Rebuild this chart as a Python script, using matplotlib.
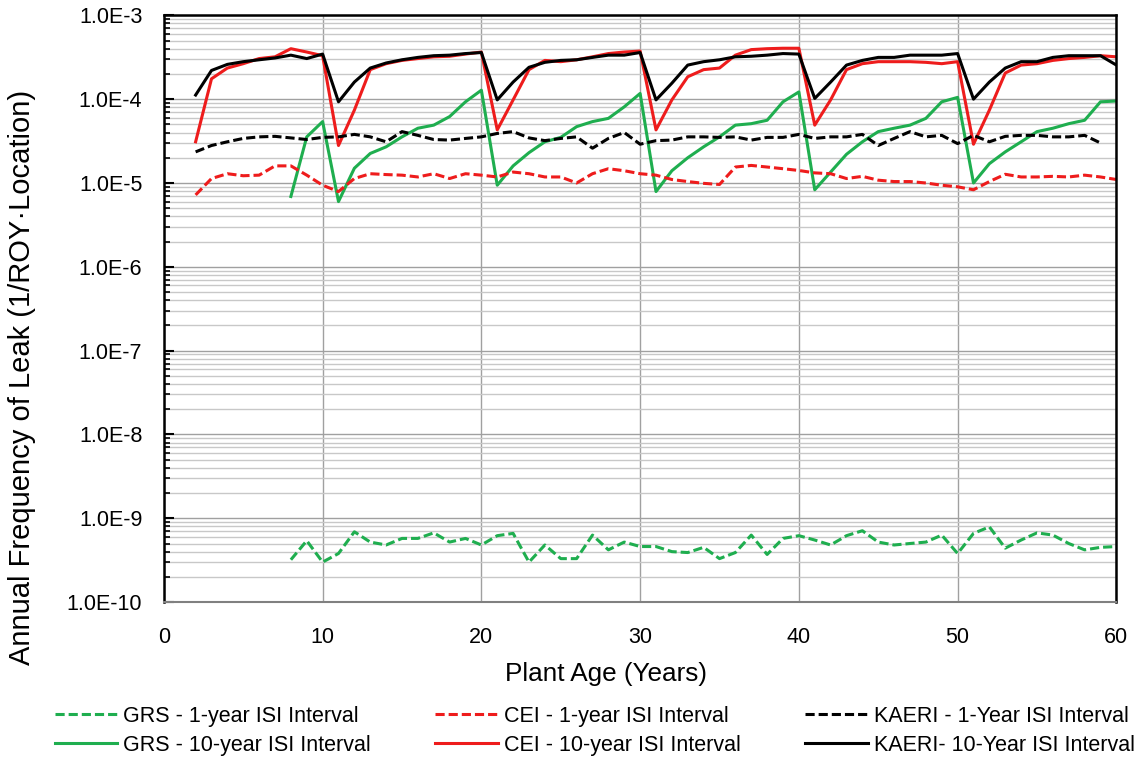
import numpy as np
import matplotlib
matplotlib.use('Agg')
import matplotlib.pyplot as plt
from matplotlib.ticker import LogLocator, NullFormatter

# %% data
years_kaeri10 = np.arange(2, 61)
kaeri10 = [1.12e-4, 2.2e-4, 2.6e-4, 2.8e-4, 2.95e-4, 3.1e-4, 3.35e-4, 3.05e-4, 3.45e-4,
           9.3e-5, 1.6e-4, 2.35e-4, 2.7e-4, 2.95e-4, 3.15e-4, 3.3e-4, 3.35e-4, 3.5e-4, 3.6e-4,
           9.8e-5, 1.6e-4, 2.4e-4, 2.75e-4, 2.9e-4, 2.95e-4, 3.15e-4, 3.35e-4, 3.35e-4, 3.6e-4,
           9.8e-5, 1.55e-4, 2.55e-4, 2.8e-4, 2.95e-4, 3.2e-4, 3.25e-4, 3.35e-4, 3.5e-4, 3.45e-4,
           1.02e-4, 1.6e-4, 2.55e-4, 2.9e-4, 3.15e-4, 3.15e-4, 3.35e-4, 3.35e-4, 3.35e-4, 3.5e-4,
           1.0e-4, 1.6e-4, 2.35e-4, 2.8e-4, 2.8e-4, 3.15e-4, 3.3e-4, 3.3e-4, 3.3e-4, 2.55e-4]

years_cei10 = np.arange(2, 61)
cei10 = [3.1e-5, 1.75e-4, 2.35e-4, 2.65e-4, 3.05e-4, 3.2e-4, 4.0e-4, 3.65e-4, 3.3e-4,
         2.8e-5, 7.4e-5, 2.25e-4, 2.65e-4, 2.9e-4, 3.05e-4, 3.2e-4, 3.25e-4, 3.45e-4, 3.65e-4,
         4.3e-5, 9.8e-5, 2.25e-4, 2.9e-4, 2.8e-4, 2.95e-4, 3.2e-4, 3.5e-4, 3.65e-4, 3.75e-4,
         4.3e-5, 9.8e-5, 1.85e-4, 2.25e-4, 2.35e-4, 3.35e-4, 3.9e-4, 4.0e-4, 4.05e-4, 4.05e-4,
         4.9e-5, 9.8e-5, 2.25e-4, 2.65e-4, 2.8e-4, 2.8e-4, 2.8e-4, 2.75e-4, 2.65e-4, 2.8e-4,
         2.9e-5, 7.4e-5, 2.05e-4, 2.55e-4, 2.65e-4, 2.9e-4, 3.05e-4, 3.15e-4, 3.3e-4, 3.2e-4]

years_grs10 = np.arange(8, 61)
grs10 = [6.9e-6, 3.55e-5, 5.4e-5,
         6.0e-6, 1.5e-5, 2.25e-5, 2.7e-5, 3.55e-5, 4.5e-5, 4.9e-5, 6.2e-5, 9.3e-5, 1.28e-4,
         9.4e-6, 1.6e-5, 2.3e-5, 3.1e-5, 3.5e-5, 4.7e-5, 5.4e-5, 5.9e-5, 8.1e-5, 1.17e-4,
         7.9e-6, 1.4e-5, 2.0e-5, 2.7e-5, 3.55e-5, 4.9e-5, 5.1e-5, 5.6e-5, 9.3e-5, 1.22e-4,
         8.3e-6, 1.35e-5, 2.2e-5, 3.1e-5, 4.1e-5, 4.5e-5, 4.9e-5, 5.9e-5, 9.3e-5, 1.05e-4,
         1.0e-5, 1.7e-5, 2.35e-5, 3.1e-5, 4.1e-5, 4.5e-5, 5.1e-5, 5.6e-5, 9.3e-5, 9.5e-5]

years_kaeri1 = np.arange(2, 60)
kaeri1 = [2.35e-5, 2.8e-5, 3.1e-5, 3.4e-5, 3.55e-5, 3.6e-5, 3.45e-5, 3.3e-5, 3.5e-5,
          3.55e-5, 3.8e-5, 3.55e-5, 3.1e-5, 4.1e-5, 3.7e-5, 3.3e-5, 3.25e-5, 3.4e-5, 3.55e-5,
          3.9e-5, 4.1e-5, 3.45e-5, 3.2e-5, 3.4e-5, 3.55e-5, 2.6e-5, 3.4e-5, 4.0e-5, 2.9e-5,
          3.2e-5, 3.25e-5, 3.55e-5, 3.55e-5, 3.5e-5, 3.55e-5, 3.25e-5, 3.5e-5, 3.5e-5, 3.8e-5,
          3.4e-5, 3.55e-5, 3.55e-5, 3.8e-5, 2.8e-5, 3.4e-5, 4.1e-5, 3.55e-5, 3.7e-5, 2.95e-5,
          3.7e-5, 3.1e-5, 3.6e-5, 3.7e-5, 3.7e-5, 3.55e-5, 3.55e-5, 3.7e-5, 3.0e-5]

years_cei1 = np.arange(2, 61)
cei1 = [7.2e-6, 1.13e-5, 1.29e-5, 1.22e-5, 1.24e-5, 1.6e-5, 1.6e-5, 1.24e-5, 9.4e-6,
        7.9e-6, 1.13e-5, 1.29e-5, 1.26e-5, 1.24e-5, 1.18e-5, 1.29e-5, 1.13e-5, 1.29e-5, 1.24e-5,
        1.18e-5, 1.35e-5, 1.29e-5, 1.18e-5, 1.18e-5, 1.0e-5, 1.29e-5, 1.48e-5, 1.4e-5, 1.29e-5,
        1.24e-5, 1.1e-5, 1.04e-5, 9.9e-6, 9.6e-6, 1.55e-5, 1.62e-5, 1.55e-5, 1.48e-5, 1.41e-5,
        1.32e-5, 1.29e-5, 1.13e-5, 1.2e-5, 1.08e-5, 1.04e-5, 1.04e-5, 1.0e-5, 9.4e-6, 9.0e-6,
        8.3e-6, 1.04e-5, 1.27e-5, 1.18e-5, 1.18e-5, 1.2e-5, 1.18e-5, 1.24e-5, 1.18e-5, 1.1e-5]

years_grs1 = np.arange(8, 61)
grs1 = [3.2e-10, 5.4e-10, 3.0e-10,
        3.8e-10, 6.9e-10, 5.2e-10, 4.8e-10, 5.75e-10, 5.75e-10, 6.7e-10, 5.2e-10, 5.75e-10, 4.8e-10,
        6.2e-10, 6.6e-10, 3.0e-10, 4.8e-10, 3.3e-10, 3.3e-10, 6.3e-10, 4.2e-10, 5.2e-10, 4.6e-10,
        4.6e-10, 4.0e-10, 3.9e-10, 4.5e-10, 3.3e-10, 3.9e-10, 6.3e-10, 3.7e-10, 5.75e-10, 6.2e-10,
        5.5e-10, 4.8e-10, 6.2e-10, 7.1e-10, 5.2e-10, 4.8e-10, 5.0e-10, 5.2e-10, 6.3e-10, 3.8e-10,
        6.6e-10, 7.9e-10, 4.4e-10, 5.5e-10, 6.7e-10, 6.3e-10, 5.0e-10, 4.2e-10, 4.5e-10, 4.6e-10]

x_ticks = [0, 10, 20, 30, 40, 50, 60]
y_ticks = [1e-10, 1e-9, 1e-8, 1e-7, 1e-6, 1e-5, 1e-4, 1e-3]
y_tick_labels = ['1.0E-10', '1.0E-9', '1.0E-8', '1.0E-7', '1.0E-6', '1.0E-5', '1.0E-4', '1.0E-3']

# %% plot
green = '#1fae4f'
red = '#ee1c1c'
black = '#000000'
lw = 2.2
dash = (3, 1.3)
font = 'Liberation Sans'

fig = plt.figure(figsize=(11.38, 7.67), dpi=100)
ax = fig.add_axes([0.144, 0.215, 0.837, 0.765])

ax.plot(years_grs1, grs1, color=green, lw=lw, dashes=dash, label='GRS - 1-year ISI Interval')
ax.plot(years_grs10, grs10, color=green, lw=lw, label='GRS - 10-year ISI Interval')
ax.plot(years_cei1, cei1, color=red, lw=lw, dashes=dash, label='CEI - 1-year ISI Interval')
ax.plot(years_cei10, cei10, color=red, lw=lw, label='CEI - 10-year ISI Interval')
ax.plot(years_kaeri1, kaeri1, color=black, lw=lw, dashes=dash, label='KAERI - 1-Year ISI Interval')
ax.plot(years_kaeri10, kaeri10, color=black, lw=lw, label='KAERI- 10-Year ISI Interval')

ax.set_yscale('log')
ax.set_ylim(1e-10, 1e-3)
ax.set_xlim(0, 60)
ax.set_xticks(x_ticks)
ax.set_yticks(y_ticks)
ax.set_yticklabels(y_tick_labels)
ax.yaxis.set_minor_locator(LogLocator(base=10, subs=np.arange(2, 10)))
ax.yaxis.set_minor_formatter(NullFormatter())

ax.grid(True, which='major', axis='both', color='#a0a0a0', lw=1.0)
ax.grid(True, which='minor', axis='y', color='#c8c8c8', lw=1.0)
ax.set_axisbelow(True)

ax.tick_params(axis='y', which='major', direction='in', length=7, width=1.5, labelsize=15.5, pad=15.5)
ax.tick_params(axis='y', which='minor', direction='in', length=4, width=1.2)
ax.tick_params(axis='x', which='major', length=0, labelsize=15.5, pad=18)
for lab in ax.get_xticklabels() + ax.get_yticklabels():
    lab.set_fontfamily(font)

for s in ['left', 'top', 'right']:
    ax.spines[s].set_linewidth(1.8)
    ax.spines[s].set_color('black')
ax.spines['bottom'].set_color('#808080')
ax.spines['bottom'].set_linewidth(1.5)

fig.text(22 / 1138, 1 - 377 / 767, 'Annual Frequency of Leak (1/ROY\u00b7Location)',
         rotation=90, ha='center', va='center', fontsize=21, fontfamily=font)
fig.text(606 / 1138, 1 - 674 / 767, 'Plant Age (Years)',
         ha='center', va='center', fontsize=18.8, fontfamily=font)

fig.legend(loc='upper left', bbox_to_anchor=(0.048, 0.0795), ncol=3, frameon=False,
           borderpad=0, borderaxespad=0,
           prop={'family': font, 'size': 15.5},
           handlelength=2.9, handletextpad=0.28, columnspacing=3.0, labelspacing=0.35)

plt.savefig('out.png', dpi=100)
